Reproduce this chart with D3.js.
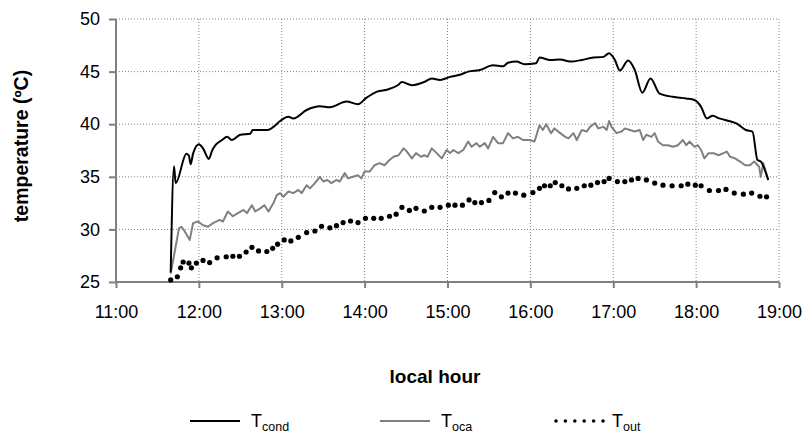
<!DOCTYPE html>
<html lang="en">
<head>
<meta charset="UTF-8">
<title>Temperatures vs local hour</title>
<script src="https://d3js.org/d3.v7.min.js"></script>
<style>
    body { margin: 0; padding: 0; background: #fff; font-family: Arial, "Liberation Sans", sans-serif; }
    .grid line { stroke: #808080; stroke-width: 1; stroke-dasharray: 1,2; }
    .axis path, .axis line { stroke: #808080; stroke-width: 2; }
    .axis text { font-size: 18px; fill: #000; }
</style>
</head>
<body>
<svg id="chart" width="807" height="435"></svg>
<script>
    // time in decimal hours, temperatures in ºC
    const condHour = [11.66, 11.70, 11.72, 11.85, 11.88, 11.90, 11.93, 12.00, 12.05, 12.12, 12.16, 12.21, 12.28, 12.34, 12.40, 12.50,
        12.62, 12.65, 12.83, 12.90, 12.98, 13.08, 13.14, 13.30, 13.46, 13.58, 13.78, 13.92, 14.02, 14.15, 14.28, 14.40,
        14.45, 14.57, 14.73, 14.81, 14.91, 15.03, 15.15, 15.25, 15.39, 15.55, 15.67, 15.73, 15.83, 15.93, 16.07, 16.11,
        16.24, 16.36, 16.48, 16.62, 16.76, 16.88, 16.95, 17.02, 17.08, 17.18, 17.26, 17.35, 17.45, 17.56, 17.72, 17.88,
        17.98, 18.06, 18.13, 18.20, 18.28, 18.42, 18.48, 18.60, 18.68, 18.74, 18.78, 18.87];
    const condTemp = [25.9, 36.0, 34.4, 37.2, 37.0, 36.2, 37.2, 38.1, 37.7, 36.7, 37.5, 38.1, 38.5, 38.8, 38.5, 39.0,
        39.1, 39.45, 39.45, 39.75, 40.3, 40.7, 40.55, 41.35, 41.7, 41.6, 42.15, 41.9, 42.5, 43.1, 43.3, 43.7,
        44.0, 43.7, 44.05, 44.35, 44.2, 44.5, 44.7, 45.0, 45.15, 45.6, 45.5, 45.85, 45.95, 45.7, 45.8, 46.35,
        46.1, 46.15, 45.95, 46.1, 46.35, 46.4, 46.75, 46.1, 45.1, 46.05, 45.15, 43.0, 44.35, 42.9, 42.6, 42.45,
        42.3, 41.65, 40.55, 40.8, 40.55, 40.25, 40.1, 39.45, 39.3, 36.6, 36.45, 34.7];

    const ocaHour = [11.66, 11.76, 11.79, 11.83, 11.89, 11.93, 11.99, 12.05, 12.11, 12.17,
        12.25, 12.29, 12.35, 12.41, 12.47, 12.54, 12.58, 12.64, 12.68, 12.74,
        12.79, 12.84, 12.90, 12.94, 12.98, 13.02, 13.08, 13.14, 13.20, 13.24,
        13.30, 13.34, 13.40, 13.46, 13.50, 13.55, 13.60, 13.66, 13.70, 13.76,
        13.80, 13.86, 13.92, 13.96, 14.00, 14.06, 14.12, 14.18, 14.24, 14.30,
        14.35, 14.41, 14.47, 14.51, 14.57, 14.62, 14.68, 14.72, 14.76, 14.81,
        14.87, 14.93, 14.99, 15.03, 15.07, 15.13, 15.19, 15.25, 15.29, 15.35,
        15.39, 15.45, 15.49, 15.55, 15.61, 15.67, 15.73, 15.79, 15.85, 15.91,
        15.99, 16.05, 16.11, 16.15, 16.19, 16.25, 16.29, 16.36, 16.42, 16.46,
        16.52, 16.56, 16.62, 16.68, 16.72, 16.78, 16.82, 16.88, 16.92, 16.95,
        16.98, 17.04, 17.10, 17.14, 17.20, 17.26, 17.32, 17.36, 17.40, 17.46,
        17.50, 17.54, 17.60, 17.66, 17.72, 17.78, 17.84, 17.88, 17.92, 17.98,
        18.02, 18.06, 18.10, 18.15, 18.21, 18.27, 18.33, 18.37, 18.41, 18.47,
        18.53, 18.59, 18.65, 18.70, 18.76, 18.78, 18.81, 18.87];
    const ocaTemp = [25.8, 30.1, 30.25, 29.8, 29.0, 30.6, 30.75, 30.4, 30.25, 30.6,
        30.9, 30.75, 31.7, 31.25, 31.55, 31.85, 31.55, 32.3, 31.7, 32.0,
        32.3, 31.7, 32.5, 33.25, 33.45, 33.1, 33.6, 33.45, 33.75, 33.45,
        34.2, 33.9, 34.4, 35.0, 34.55, 34.7, 34.4, 34.7, 34.55, 35.35,
        34.85, 35.0, 35.15, 34.85, 35.5, 35.5, 36.1, 36.3, 36.1, 36.6,
        36.9, 37.05, 37.7, 37.4, 36.75, 37.25, 36.9, 37.05, 36.9, 37.7,
        37.25, 36.75, 37.55, 37.25, 37.55, 37.25, 37.55, 38.35, 37.85, 38.2,
        37.85, 38.2, 37.7, 38.8, 38.2, 38.2, 39.15, 38.65, 38.8, 38.5,
        38.5, 38.35, 39.9, 39.45, 40.0, 39.15, 39.6, 39.15, 38.8, 38.65,
        39.15, 38.5, 39.45, 39.3, 39.75, 40.1, 39.6, 39.75, 39.45, 40.3,
        39.75, 39.15, 39.3, 39.6, 39.45, 39.3, 39.45, 38.5, 39.0, 38.8,
        39.15, 38.35, 38.0, 38.0, 37.85, 38.0, 38.5, 38.0, 38.35, 37.85,
        38.0, 37.55, 36.75, 37.25, 37.25, 37.05, 37.25, 37.4, 36.9, 36.75,
        36.45, 36.1, 36.1, 36.45, 35.95, 35.0, 36.3, 34.7];

    const outHour = [11.66, 11.74, 11.78, 11.81, 11.88, 11.91, 11.97, 12.05, 12.13, 12.22, 12.33, 12.41, 12.49, 12.57, 12.64, 12.72,
        12.82, 12.89, 12.95, 13.03, 13.11, 13.20, 13.30, 13.40, 13.48, 13.58, 13.66, 13.74, 13.83, 13.92, 14.01, 14.11,
        14.20, 14.30, 14.38, 14.45, 14.54, 14.62, 14.72, 14.81, 14.91, 15.01, 15.09, 15.18, 15.26, 15.33, 15.41, 15.50,
        15.57, 15.65, 15.73, 15.82, 15.92, 16.03, 16.11, 16.17, 16.24, 16.30, 16.38, 16.46, 16.56, 16.65, 16.73, 16.81,
        16.89, 16.95, 17.05, 17.14, 17.22, 17.30, 17.40, 17.50, 17.60, 17.71, 17.82, 17.90, 17.99, 18.06, 18.16, 18.27,
        18.36, 18.46, 18.57, 18.67, 18.77, 18.85];
    const outTemp = [25.2, 25.5, 26.35, 26.9, 26.8, 26.35, 26.8, 27.05, 26.85, 27.3, 27.4, 27.45, 27.45, 27.85, 28.3, 27.95,
        27.9, 28.2, 28.6, 29.0, 28.9, 29.25, 29.7, 29.85, 30.3, 30.15, 30.35, 30.65, 30.8, 30.65, 31.05, 31.05,
        31.05, 31.25, 31.45, 32.1, 31.8, 32.0, 31.75, 32.1, 32.1, 32.3, 32.3, 32.3, 32.8, 32.55, 32.55, 32.75,
        33.5, 33.1, 33.45, 33.45, 33.25, 33.5, 33.9, 34.15, 34.15, 34.45, 34.15, 33.85, 33.9, 34.15, 34.2, 34.45,
        34.55, 34.85, 34.55, 34.55, 34.7, 34.85, 34.7, 34.4, 34.2, 34.15, 34.15, 34.3, 34.2, 34.15, 33.7, 33.7,
        33.8, 33.45, 33.35, 33.45, 33.15, 33.1];

    const yTicks = [25, 30, 35, 40, 45, 50];
    const xTicks = [11, 12, 13, 14, 15, 16, 17, 18, 19];

    const margin = { top: 19, right: 28, bottom: 153, left: 116 };
    const svg = d3.select("#chart");
    const width = 807 - margin.left - margin.right;
    const height = 435 - margin.top - margin.bottom;

    const chart = svg.append("g")
        .attr("transform", `translate(${margin.left},${margin.top})`);

    const x = d3.scaleLinear().domain([11, 19]).range([0, width]);
    const y = d3.scaleLinear().domain([25, 50]).range([height, 0]);

    // dotted grid
    chart.append("g").attr("class", "grid")
        .selectAll("line").data(yTicks.slice(1)).join("line")
        .attr("x1", 0).attr("x2", width)
        .attr("y1", d => y(d)).attr("y2", d => y(d));
    chart.append("g").attr("class", "grid")
        .selectAll("line").data(xTicks.slice(1)).join("line")
        .attr("x1", d => x(d)).attr("x2", d => x(d))
        .attr("y1", 0).attr("y2", height);

    // axes
    const xAxis = d3.axisBottom(x).tickValues(xTicks).tickSize(6).tickPadding(17)
        .tickFormat(d => d + ":00");
    const yAxis = d3.axisLeft(y).tickValues(yTicks).tickSize(7).tickPadding(9);

    chart.append("g").attr("class", "axis")
        .attr("transform", `translate(0,${height})`)
        .call(xAxis)
        .call(g => g.select(".domain").attr("d", `M0,0H${width}`));
    chart.append("g").attr("class", "axis")
        .call(yAxis)
        .call(g => g.select(".domain").attr("d", `M0,0V${height}`));

    const lineGen = d3.line()
        .x(d => x(d[0]))
        .y(d => y(d[1]));

    chart.append("path")
        .datum(ocaHour.map((h, i) => [h, ocaTemp[i]]))
        .attr("fill", "none")
        .attr("stroke", "#808080")
        .attr("stroke-width", 2)
        .attr("stroke-linejoin", "round")
        .attr("d", lineGen);

    chart.append("path")
        .datum(condHour.map((h, i) => [h, condTemp[i]]))
        .attr("fill", "none")
        .attr("stroke", "#000")
        .attr("stroke-width", 2)
        .attr("stroke-linejoin", "round")
        .attr("d", lineGen.curve(d3.curveMonotoneX));

    chart.selectAll(".dot")
        .data(outHour.map((h, i) => [h, outTemp[i]]))
        .join("circle")
        .attr("class", "dot")
        .attr("cx", d => x(d[0]))
        .attr("cy", d => y(d[1]))
        .attr("r", 2.6)
        .attr("fill", "#000");

    // axis titles
    svg.append("text")
        .attr("x", 435).attr("y", 383)
        .attr("text-anchor", "middle")
        .style("font-size", "19px").style("font-weight", "bold")
        .text("local hour");

    svg.append("text")
        .attr("transform", "translate(28,146) rotate(-90)")
        .attr("text-anchor", "middle")
        .style("font-size", "19.5px").style("font-weight", "bold")
        .text("temperature (ºC)");

    // legend
    const legend = svg.append("g").attr("transform", "translate(0,421)");
    const items = [
        { x: 190, name: "cond", color: "#000", dots: false },
        { x: 380, name: "oca", color: "#808080", dots: false },
        { x: 555, name: "out", color: "#000", dots: true }
    ];
    items.forEach(it => {
        if (it.dots) {
            legend.selectAll(".ldot").data(d3.range(6)).join("circle")
                .attr("class", "ldot")
                .attr("cx", i => it.x + 1 + i * 9.4)
                .attr("cy", 0).attr("r", 1.8).attr("fill", it.color);
        } else {
            legend.append("line")
                .attr("x1", it.x).attr("x2", it.x + 50)
                .attr("y1", 0).attr("y2", 0)
                .attr("stroke", it.color).attr("stroke-width", 2);
        }
        const t = legend.append("text")
            .attr("x", it.x + (it.dots ? 57 : 61)).attr("y", 6)
            .style("font-size", "18px");
        t.append("tspan").text("T");
        t.append("tspan").attr("dy", 4).style("font-size", "12.5px").text(it.name);
    });
</script>
</body>
</html>
